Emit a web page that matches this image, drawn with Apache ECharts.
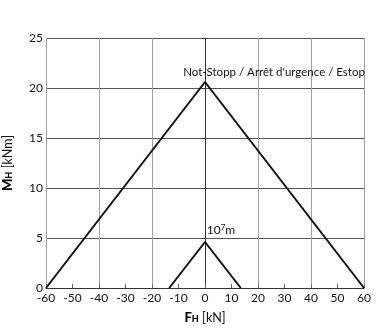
<!DOCTYPE html>
<html><head><meta charset="utf-8">
<script src="https://cdn.jsdelivr.net/npm/echarts@6/dist/echarts.min.js"></script>
<style>html,body{margin:0;padding:0;background:#fff}#c{width:382px;height:328px}</style>
</head><body><div id="c"></div>
<script>
const estopX = [-60, 0, 60];
const estopY = [0, 20.6, 0];
const smallX = [-13.5, 0, 13.5];
const smallY = [0, 4.6, 0];
const estopLabel = 'Not-Stopp / Arrêt d\'urgence / Estop';
const FONT = 'Lato, "DejaVu Sans", sans-serif';

const chart = echarts.init(document.getElementById('c'));
function pts(xs, ys){ return xs.map((x,i)=>[x, ys[i]]); }
const estopData = pts(estopX, estopY).map((p,i)=> i===1 ? {value:p, label:{show:true, position:'top', offset:[69,2], formatter: estopLabel, color:'#111', fontSize:11.5, fontFamily:FONT}} : p);
const smallData = pts(smallX, smallY).map((p,i)=> i===1 ? {value:p, label:{show:true, position:'top', offset:[16,1], formatter:'{a|10}{s|7}{a|m}', rich:{a:{fontSize:12,fontFamily:FONT,color:'#111'}, s:{fontSize:8,fontFamily:FONT,color:'#111',verticalAlign:'top', padding:[0,0,6,0]}}}} : p);

const nameRich = {b:{fontWeight:900,fontSize:13,fontFamily:FONT,color:'#000'}, s:{fontWeight:900,fontSize:9,fontFamily:FONT,color:'#000',verticalAlign:'bottom',padding:[4,0,0,0]}, n:{fontWeight:'normal',fontSize:12.5,fontFamily:FONT,color:'#111'}};

chart.setOption({
  animation:false,
  grid:{left:46, right:18, top:38, bottom:40, containLabel:false, outerBoundsMode:'none'},
  xAxis:[{
    type:'value', min:-60, max:60, interval:10,
    axisLine:{show:true, onZero:false, lineStyle:{color:'#333', width:1}},
    axisTick:{show:true, inside:true, length:4, lineStyle:{color:'#666'}},
    axisLabel:{color:'#111', fontSize:12, fontFamily:FONT, margin:4},
    splitLine:{show:false},
    name:'{b|F}{s|H} {n|[kN]}', nameLocation:'middle', nameGap:23,
    nameTextStyle:{rich:nameRich}
  },{
    type:'value', min:-60, max:60, interval:20, position:'bottom',
    axisLine:{show:false}, axisTick:{show:false}, axisLabel:{show:false},
    splitLine:{show:true, lineStyle:{color:'#a0a0a0', width:1}}
  }],
  yAxis:{
    type:'value', min:0, max:25, interval:5,
    axisLine:{show:true, lineStyle:{color:'#333'}},
    axisTick:{show:true, length:3, lineStyle:{color:'#333'}},
    axisLabel:{color:'#111', fontSize:12, fontFamily:FONT, margin:3},
    splitLine:{show:true, lineStyle:{color:'#555', width:1}},
    name:'{b|M}{s|H} {n|[kNm]}', nameLocation:'middle', nameGap:32,
    nameTextStyle:{rich:nameRich}
  },
  series:[
    {type:'line', data:estopData, symbol:'circle', symbolSize:1, showSymbol:true, itemStyle:{color:'rgba(0,0,0,0)'}, lineStyle:{color:'#111', width:2}, label:{show:false}, z:5},
    {type:'line', data:smallData, symbol:'circle', symbolSize:1, showSymbol:true, itemStyle:{color:'rgba(0,0,0,0)'}, lineStyle:{color:'#111', width:2}, label:{show:false}, z:5}
  ]
});
</script></body></html>
